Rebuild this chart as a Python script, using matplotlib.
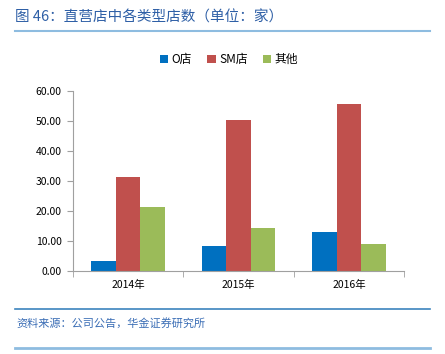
import matplotlib.pyplot as plt
import numpy as np

plt.rcParams['font.family'] = ['Noto Sans CJK SC', 'DejaVu Sans']

years = ["2014年", "2015年", "2016年"]
o_store = [3.3, 8.3, 13.0]
sm_store = [31.5, 50.5, 55.5]
other = [21.5, 14.5, 9.0]

fig = plt.figure(figsize=(4.45, 3.54), dpi=100)
ax = fig.add_axes([0.164, 0.234, 0.744, 0.509])

x = np.arange(len(years))
w = 0.222
ax.bar(x - w, o_store, w, color="#0070C0", label="O店")
ax.bar(x, sm_store, w, color="#C0504D", label="SM店")
ax.bar(x + w, other, w, color="#9BBB59", label="其他")

ax.set_xlim(-0.5, 2.5)
ax.set_ylim(0, 60)
ax.set_yticks(np.arange(0, 61, 10))
ax.set_yticklabels(["%.2f" % v for v in np.arange(0, 61, 10)], fontsize=7.5)
ax.set_xticks(x)
ax.set_xticklabels(years, fontsize=7.5)
ax.tick_params(axis='x', length=0, pad=6)
ax.set_xticks([-0.5, 0.5, 1.5, 2.5], minor=True)
ax.tick_params(axis='x', which='minor', length=4, color="#A0A0A0")
ax.tick_params(axis='y', length=4, color="#A0A0A0", pad=4)
for s in ["top", "right"]:
    ax.spines[s].set_visible(False)
for s in ["left", "bottom"]:
    ax.spines[s].set_color("#A0A0A0")

fig.legend(loc="center", bbox_to_anchor=(0.515, 0.832), ncol=3, frameon=False,
           fontsize=8.5, handlelength=0.7, handleheight=0.7, columnspacing=1.3,
           handletextpad=0.3)

title = "图 46：直营店中各类型店数（单位：家）"
fig.text(0.034, 0.951, title, fontsize=10.5, color="#2E5FA6", va="center")
fig.add_artist(plt.Line2D([0.034, 0.966], [0.912, 0.912], color="#8EBCE0", lw=1.5))
fig.add_artist(plt.Line2D([0.034, 0.966], [0.127, 0.127], color="#3C84BE", lw=1.2))
fig.text(0.036, 0.088, "资料来源：公司公告，华金证券研究所", fontsize=8,
         color="#3A6DB5", style="italic", va="center")
fig.add_artist(plt.Line2D([0.034, 0.966], [0.017, 0.017], color="#8EBCE0", lw=2))

fig.savefig("out.png", dpi=100)
